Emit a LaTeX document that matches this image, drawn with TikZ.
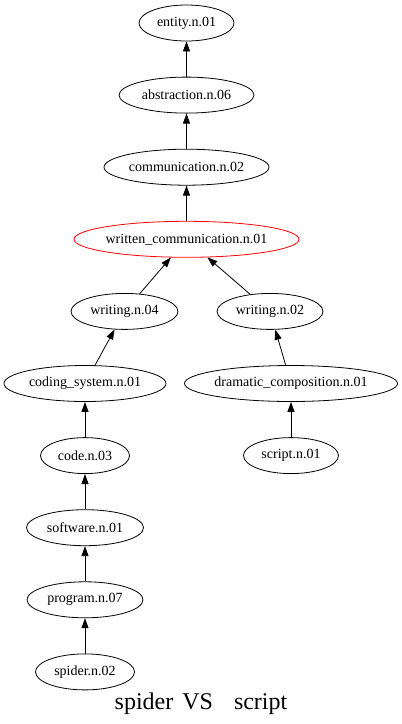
\documentclass[tikz,border=0pt]{standalone}
\usepackage{fontspec}
\setmainfont{Liberation Serif}
\usetikzlibrary{arrows.meta,positioning,shapes.geometric}

\begin{document}
\begin{tikzpicture}[node distance=35.3pt,>={Triangle[length=10pt,width=7pt]},font=\fontsize{14}{16}\selectfont]
		\tikzstyle{synset}=[ellipse, draw=black, line width=0.8pt, minimum height=36pt, inner xsep=-3pt, inner ysep=0pt]
		\tikzstyle{common}=[synset, draw=red]
		\tikzstyle{hyper}=[->, line width=0.8pt]
		\useasboundingbox (0,0) rectangle (402pt,-724pt);

		\node [synset, minimum width=95pt] (entity) at (186.5pt,-23pt) {entity.n.01};
		\node [synset, minimum width=135pt] (abstraction) [below=of entity] {abstraction.n.06}
		edge [hyper] (entity);
		\node [synset, minimum width=165pt] (communication) [below=of abstraction] {communication.n.02}
		edge [hyper] (abstraction);
		\node [common, minimum width=225pt] (writtencomm) [below=of communication] {written\_communication.n.01}
		edge [hyper] (communication);

		% spider branch
		\node [synset, minimum width=107pt] (writing04) [below=of writtencomm, xshift=-62pt] {writing.n.04}
		edge [hyper] (writtencomm);
		\node [synset, minimum width=162pt] (codingsys) [below=of writing04, xshift=-39.5pt] {coding\_system.n.01}
		edge [hyper] (writing04);
		\node [synset, minimum width=89pt] (code) [below=of codingsys] {code.n.03}
		edge [hyper] (codingsys);
		\node [synset, minimum width=117pt] (software) [below=of code] {software.n.01}
		edge [hyper] (code);
		\node [synset, minimum width=116pt] (program) [below=of software] {program.n.07}
		edge [hyper] (software);
		\node [synset, minimum width=99pt] (spider) [below=of program] {spider.n.02}
		edge [hyper] (program);

		% script branch
		\node [synset, minimum width=106pt] (writing02) [below=of writtencomm, xshift=83.5pt] {writing.n.02}
		edge [hyper] (writtencomm);
		\node [synset, minimum width=213pt] (dramatic) [below=of writing02, xshift=21pt] {dramatic\_composition.n.01}
		edge [hyper] (writing02);
		\node [synset, minimum width=95pt] (script) [below=of dramatic] {script.n.01}
		edge [hyper] (dramatic);

		\node [anchor=base, font=\fontsize{24}{28}\selectfont] (title) at (201pt,-709pt) {spider\hspace{9pt}VS\hspace{21pt}script};
	\end{tikzpicture}
\end{document}
